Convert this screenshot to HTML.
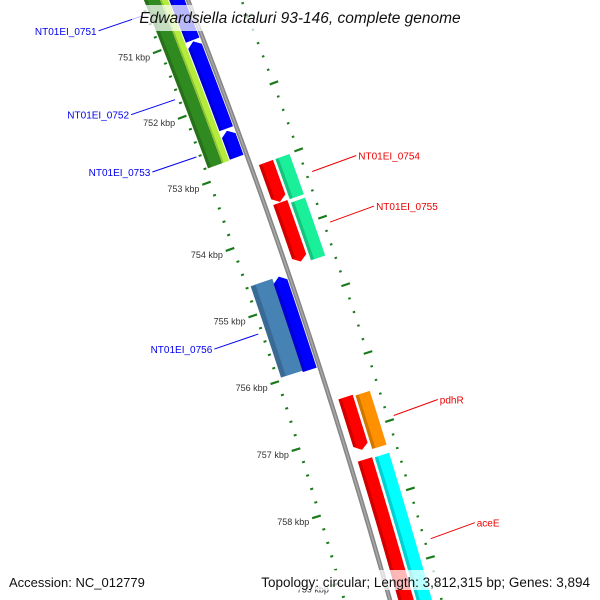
<!DOCTYPE html>
<html><head><meta charset="utf-8"><style>
html,body{margin:0;padding:0;background:#fff;overflow:hidden;width:600px;height:600px}
svg{display:block;font-family:"Liberation Sans","DejaVu Sans",sans-serif}
</style></head><body>
<svg id="map" width="600" height="600" viewBox="0 0 600 600" xmlns="http://www.w3.org/2000/svg">
<rect width="600" height="600" fill="#fff"/>
<g id="feat"></g>
<g id="ticks"></g>
<g id="labels"></g>
<rect x="132" y="5" width="336" height="26" fill="#fff" fill-opacity="0.72"/>
<text x="300" y="23" text-anchor="middle" font-size="15.5" font-style="italic" fill="#111">Edwardsiella ictaluri 93-146, complete genome</text>
<rect x="5" y="570" width="142" height="20" fill="#fff" fill-opacity="0.72"/>
<text x="9" y="587" font-size="13" fill="#111">Accession: NC_012779</text>
<rect x="256" y="570" width="338" height="20" fill="#fff" fill-opacity="0.72"/>
<text x="590" y="587" text-anchor="end" font-size="13.5" fill="#111">Topology: circular; Length: 3,812,315 bp; Genes: 3,894</text>
</svg>
<script>
// feature data (kbp positions)
const featStart  = [750.0, 750.0, 749.5, 751.05, 752.40, 754.59, 754.59, 753.01, 753.61, 753.01, 753.66, 756.50, 756.52, 757.42, 757.43];
const featEnd    = [752.81,752.81,751.03,752.37, 752.80, 755.96, 755.98, 753.60, 754.49, 753.61, 754.52, 757.28, 757.31, 760.0, 760.0];
const featRing   = ["g","y","b","b","b","s","b","r","r","o","o","r","o","r","o"];
const featColor  = ["#2f8a1f","#b4ec3c","#0000ff","#0000ff","#0000ff","#4682b4","#0000ff","#ff0000","#ff0000","#1af099","#1af099","#ff0000","#ff9000","#ff0000","#00ffff"];
const featArrow  = [0,0,0,-1,-1,0,-1,1,1,0,0,1,0,0,0];
const tickStart = 750, tickEnd = 760;
const majorLabels = ["751 kbp","752 kbp","753 kbp","754 kbp","755 kbp","756 kbp","757 kbp","758 kbp","759 kbp"];
const majorValues = [751,752,753,754,755,756,757,758,759];
const geneNames  = ["NT01EI_0751","NT01EI_0752","NT01EI_0753","NT01EI_0756","NT01EI_0754","NT01EI_0755","pdhR","aceE"];
const geneKbp    = [750.45, 751.73, 752.6, 755.27, 753.35, 754.1, 756.95, 758.75];
const geneSide   = [-1,-1,-1,-1,1,1,1,1];

const CX=-5549.6, CY=2265.7, R=6168.7, A0=-0.35862, DA=0.01148;
const RINGS={g:[-41,-26],y:[-26,-18.5],b:[-17.5,-3],s:[-40,-17],r:[8,23],o:[25.5,40.5]};
const NS="http://www.w3.org/2000/svg";
function ang(k){return A0+(k-752)*DA;}
function pt(k,r){const a=ang(k);return [CX+(R+r)*Math.cos(a),CY+(R+r)*Math.sin(a)];}
function mk(tag,attrs,parent){const e=document.createElementNS(NS,tag);for(const k in attrs)e.setAttribute(k,attrs[k]);parent.appendChild(e);return e;}
function f(p){return p[0].toFixed(2)+","+p[1].toFixed(2);}
function bandPts(k0,k1,r0,r1,arrow){
  const al=0.075, rm=(r0+r1)/2, pts=[];
  let a0=k0,a1=k1;
  if(arrow===1)a1=k1-al; if(arrow===-1)a0=k0+al;
  const n=30;
  for(let i=0;i<=n;i++)pts.push(pt(a0+(a1-a0)*i/n,r1));
  if(arrow===1)pts.push(pt(k1,rm));
  for(let i=n;i>=0;i--)pts.push(pt(a0+(a1-a0)*i/n,r0));
  if(arrow===-1)pts.push(pt(k0,rm));
  return pts.map(f).join(" ");
}
const gF=document.getElementById('feat'), gT=document.getElementById('ticks'), gL=document.getElementById('labels');
let bb=[];for(let i=0;i<=100;i++)bb.push(pt(749.5+i*0.11,0));
let bbl=mk('polyline',{points:bb.map(f).join(" "),fill:"none",stroke:"#858585","stroke-width":4.5},gF);


let bbh=mk('polyline',{points:bb.map(f).join(" "),fill:"none",stroke:"#a8a8a8","stroke-width":1.5},gF);


for(let i=0;i<featStart.length;i++){
  const rr=RINGS[featRing[i]];
  const p=mk('polygon',{points:bandPts(featStart[i],featEnd[i],rr[0],rr[1],featArrow[i]),fill:featColor[i]},gF);
  
  
  const w=rr[1]-rr[0];
  const s=mk('polygon',{points:bandPts(featStart[i]+(featArrow[i]===-1?0.075:0.005),featEnd[i]-(featArrow[i]===1?0.075:0.005),rr[0],rr[0]+w*0.22,0),fill:"#000","fill-opacity":0.18},gF);
  
  
}
for(let k=tickStart;k<=tickEnd+1e-9;k+=0.2){
  const kk=Math.round(k*10)/10, major=Math.abs(kk-Math.round(kk))<1e-6;
  const a=major?pt(kk,-52):pt(kk,-45.5), b=major?pt(kk,-43):pt(kk,-42.5);
  const l=mk('line',{x1:a[0],y1:a[1],x2:b[0],y2:b[1],stroke:"#1c7a1c","stroke-width":major?2.2:2},gT);
  
  
  const c=major?pt(kk,46):pt(kk,48.5), d=major?pt(kk,55):pt(kk,51);
  const l2=mk('line',{x1:c[0],y1:c[1],x2:d[0],y2:d[1],stroke:"#1c7a1c","stroke-width":major?2.2:2},gT);
  
  
}
for(let i=0;i<majorValues.length;i++){
  const p=pt(majorValues[i],-55);
  const t=mk('text',{x:p[0],y:p[1]+6,"text-anchor":"end","font-size":9,fill:"#333"},gT);
  t.textContent=majorLabels[i];
  
  
}
for(let i=0;i<geneNames.length;i++){
  const side=geneSide[i], col=side<0?"#0000ee":"#ee0000";
  const a=side<0?pt(geneKbp[i],-48):pt(geneKbp[i],56);
  const b=[a[0]+side*44,a[1]+(side<0?15:-16)];
  const ln=mk('line',{x1:a[0],y1:a[1],x2:b[0],y2:b[1],stroke:col,"stroke-width":1},gL);
  
  
  const t=mk('text',{x:b[0]+side*2,y:b[1]+4,"text-anchor":side<0?"end":"start","font-size":10,fill:col},gL);
  t.textContent=geneNames[i];
  
  
}
</script>
</body></html>
